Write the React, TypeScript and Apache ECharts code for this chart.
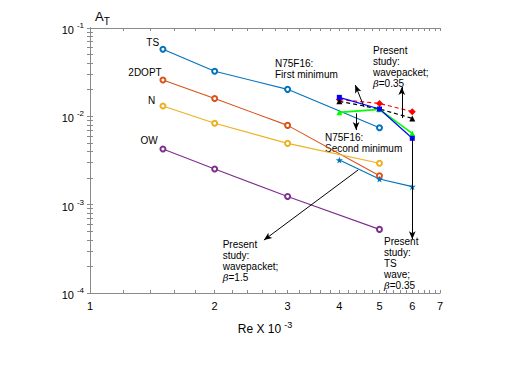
import React, { useEffect, useRef } from "react";
import * as echarts from "echarts";

// Re x 10^-3 positions
const reLiterature = [1.5, 2, 3, 5];
const rePresent = [4, 5, 6];

// Literature curves (A_T)
const tsValues = [0.0574, 0.0324, 0.0202, 0.00743];
const dOptValues = [0.0258, 0.0159, 0.0079, 0.00212];
const nValues = [0.0131, 0.00834, 0.00494, 0.00294];
const owValues = [0.00427, 0.00253, 0.00124, 0.000525];

// Present study / N75F16
const tsWaveValues = [0.0032, 0.00195, 0.0016];
const wavepacket035Values = [0.0164, 0.0121, 0.00564];
const secondMinValues = [0.0111, 0.012, 0.00641];
const firstMinRedValues = [0.0155, 0.014, 0.0113];
const firstMinBlackValues = [0.0148, 0.0121, 0.00948];

const xTickLabels = [1, 2, 3, 4, 5, 6, 7];
const yTickExponents = [-4, -3, -2, -1];

// annotation arrows [fromX, fromY, toX(arrowhead), toY]
const arrows = [
  [4.59, 0.01274, 4.37, 0.0226],
  [5.66, 0.00957, 5.66, 0.0215],
  [4.39, 0.0108, 4.39, 0.007],
  [4.44, 0.00247, 2.63, 0.000397],
  [6, 0.00564, 6, 0.000407],
];

const L = Math.log10;
const pts = (xs: number[], ys: number[]) => xs.map((x, i) => [L(x), L(ys[i])]);

const FONT = "'Liberation Sans', Arial, Helvetica, sans-serif";
const AX = "#8a8a8a";

const starPath =
  "path://M50,0 L61,35 L98,35 L68,57 L79,91 L50,70 L21,91 L32,57 L2,35 L39,35 Z";

export default function App() {
  const ref = useRef<HTMLDivElement>(null);
  useEffect(() => {
    if (!ref.current) return;
    const chart = echarts.init(ref.current, null, { renderer: "svg" });

    const xMinor: number[] = [];
    for (let v = 1; v <= 7.0001; v += 0.2) xMinor.push(L(Math.round(v * 10) / 10));
    const yTicks: number[] = [];
    for (let k = -4; k <= -2; k++) for (let m = 1; m <= 9; m++) yTicks.push(L(m * Math.pow(10, k)));
    yTicks.push(-1);

    const tick = { show: true, inside: true, length: 3, lineStyle: { color: AX } };
    const line = { show: true, lineStyle: { color: AX, width: 1 } };

    const circleSeries = (name: string, ys: number[], color: string) => ({
      name,
      type: "line",
      data: pts(reLiterature, ys),
      symbol: "emptyCircle",
      symbolSize: 5,
      lineStyle: { color, width: 1.1 },
      itemStyle: { color, borderWidth: 1.1 },
    });

    const beta = { fontFamily: "'DejaVu Serif', serif", fontStyle: "italic", fontSize: 10 };
    const txt = (x: number, y: number, text: string, align = "left", vAlign = "top") => ({
      type: "text",
      x,
      y,
      style: {
        text,
        fontFamily: FONT,
        fontSize: 10,
        lineHeight: 11,
        fill: "#000",
        textAlign: align,
        textVerticalAlign: vAlign,
        rich: { g: { ...beta, lineHeight: 11 }, n: { fontFamily: FONT, fontSize: 10, lineHeight: 11 } },
      },
    });

    chart.setOption({
      animation: false,
      grid: { left: 90, right: 74, top: 28, bottom: 72, containLabel: false },
      xAxis: [
        {
          type: "value",
          min: 0,
          max: L(7),
          axisLine: line,
          axisTick: { ...tick, customValues: xMinor },
          axisLabel: {
            customValues: xTickLabels.map(L),
            formatter: (v: number) => String(Math.round(Math.pow(10, v))),
            fontFamily: FONT,
            fontSize: 11,
            color: "#000",
            margin: 7,
          },
          splitLine: { show: false },
          name: "{b|Re X 10}{s|-3}",
          nameLocation: "middle",
          nameGap: 27,
          nameTextStyle: {
            rich: {
              b: { fontFamily: FONT, fontSize: 12, color: "#000" },
              s: { fontFamily: FONT, fontSize: 9, color: "#000", padding: [0, 0, 8, 3] },
            },
          },
        },
        {
          type: "value",
          position: "top",
          min: 0,
          max: L(7),
          axisLine: line,
          axisTick: { ...tick, customValues: xMinor },
          axisLabel: { show: false },
          splitLine: { show: false },
        },
      ],
      yAxis: [
        {
          type: "value",
          min: -4,
          max: -1,
          axisLine: line,
          axisTick: { ...tick, customValues: yTicks },
          axisLabel: {
            customValues: yTickExponents,
            formatter: (v: number) => `{b|10}{s|${Math.round(v)}}`,
            margin: 6,
            rich: {
              b: { fontFamily: FONT, fontSize: 11, color: "#000", padding: [4, 0, 0, 0] },
              s: { fontFamily: FONT, fontSize: 8, color: "#000", padding: [0, 0, 5, 3] },
            },
          },
          splitLine: { show: false },
        },
        {
          type: "value",
          position: "right",
          min: -4,
          max: -1,
          axisLine: line,
          axisTick: { ...tick, customValues: yTicks },
          axisLabel: { show: false },
          splitLine: { show: false },
        },
      ],
      graphic: [
        {
          type: "text",
          x: 95,
          y: 7,
          style: {
            text: "{a|A}{t|T}",
            rich: {
              a: { fontFamily: FONT, fontSize: 13, fill: "#000" },
              t: { fontFamily: FONT, fontSize: 10, fill: "#000", padding: [9, 0, 0, 0] },
            },
          },
        },
        txt(152.7, 42.7, "TS", "center", "middle"),
        txt(145, 72.7, "2DOPT", "center", "middle"),
        txt(151.7, 100, "N", "center", "middle"),
        txt(149, 140.7, "OW", "center", "middle"),
        txt(275, 57.5, "N75F16:\nFirst minimum"),
        txt(373, 44.5, "Present\nstudy:\nwavepacket;\n{g|β}{n|=0.35}"),
        txt(325, 131.5, "N75F16:\nSecond minimum"),
        txt(222.7, 238.5, "Present\nstudy:\nwavepacket;\n{g|β}{n|=1.5}"),
        txt(384, 236, "Present\nstudy:\nTS\nwave;\n{g|β}{n|=0.35}"),
      ],
      series: [
        circleSeries("TS", tsValues, "#0072BD"),
        circleSeries("2DOPT", dOptValues, "#D95319"),
        circleSeries("N", nValues, "#EDB120"),
        circleSeries("OW", owValues, "#7E2F8E"),
        {
          name: "TS wave",
          type: "line",
          data: pts(rePresent, tsWaveValues),
          symbol: starPath,
          symbolSize: 7,
          lineStyle: { color: "#0072BD", width: 1.1 },
          itemStyle: { color: "#0072BD" },
        },
        {
          name: "N75F16 first minimum (red)",
          type: "line",
          data: pts(rePresent, firstMinRedValues),
          symbol: "diamond",
          symbolSize: 7,
          lineStyle: { color: "#ff0000", width: 1.2, type: [4, 3] },
          itemStyle: { color: "#ff0000" },
        },
        {
          name: "N75F16 first minimum (black)",
          type: "line",
          data: pts(rePresent, firstMinBlackValues),
          symbol: "triangle",
          symbolSize: 6,
          lineStyle: { color: "#000000", width: 1.2, type: [4, 3] },
          itemStyle: { color: "#000000" },
        },
        {
          name: "N75F16 second minimum",
          type: "line",
          data: pts(rePresent, secondMinValues),
          symbol: "triangle",
          symbolSize: 6,
          lineStyle: { color: "#00ff00", width: 1.6 },
          itemStyle: { color: "#00ff00" },
        },
        {
          name: "Wavepacket 0.35",
          type: "line",
          data: pts(rePresent, wavepacket035Values),
          symbol: "rect",
          symbolSize: 5,
          lineStyle: { color: "#0000ff", width: 1.2 },
          itemStyle: { color: "#0000ff" },
          markLine: {
            silent: true,
            symbol: ["none", "arrow"],
            symbolSize: [5, 8],
            label: { show: false },
            lineStyle: { color: "#000", width: 1, type: "solid" },
            data: arrows.map((a) => [
              { coord: [L(a[0]), L(a[1])] },
              { coord: [L(a[2]), L(a[3])] },
            ]),
          },
        },
      ],
    });
    return () => chart.dispose();
  }, []);
  return (
    <div
      ref={ref}
      style={{ position: "fixed", left: 0, top: 0, width: 514, height: 365, background: "#fff" }}
    />
  );
}
